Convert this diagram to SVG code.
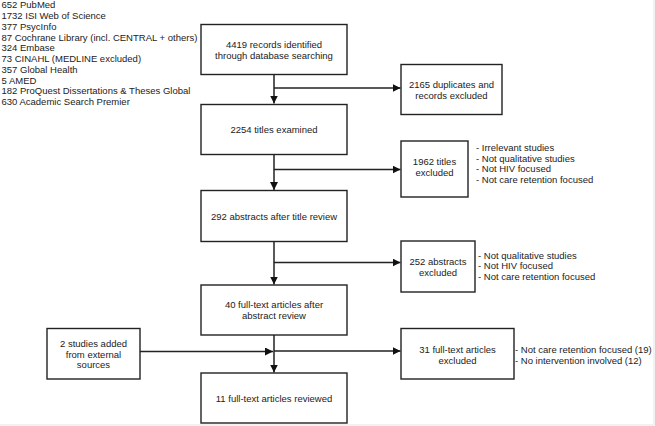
<svg xmlns="http://www.w3.org/2000/svg" width="655" height="426" viewBox="0 0 655 426">
<defs>
<style>
.box{fill:#fff;stroke:#222;stroke-width:1.4}
.t{font-family:"Liberation Sans",Arial,sans-serif;font-size:9.5px;fill:#222}
.c{text-anchor:middle}
.ln{fill:none;stroke:#222;stroke-width:1.5}
</style>
<marker id="ah" markerUnits="userSpaceOnUse" markerWidth="9" markerHeight="9" refX="8" refY="4" orient="auto">
<path d="M0,0 L8,4 L0,8 z" fill="#111"/>
</marker>
</defs>
<rect x="0" y="0" width="655" height="426" fill="#fff"/>
<rect x="653" y="0" width="2" height="426" fill="#f1f1f1"/>
<rect x="0" y="424" width="655" height="2" fill="#f1f1f1"/>

<g id="sources">
<text class="t" x="1.5" y="8.4">652 PubMed</text>
<text class="t" x="1.5" y="19.15">1732 ISI Web of Science</text>
<text class="t" x="1.5" y="29.9">377 PsycInfo</text>
<text class="t" x="1.5" y="40.65">87 Cochrane Library (incl. CENTRAL + others)</text>
<text class="t" x="1.5" y="51.4">324 Embase</text>
<text class="t" x="1.5" y="62.15">73 CINAHL (MEDLINE excluded)</text>
<text class="t" x="1.5" y="72.9">357 Global Health</text>
<text class="t" x="1.5" y="83.65">5 AMED</text>
<text class="t" x="1.5" y="94.4">182 ProQuest Dissertations &amp; Theses Global</text>
<text class="t" x="1.5" y="105.15">630 Academic Search Premier</text>
</g>

<g id="connectors">
<path class="ln" d="M274,74.5 V103.5" marker-end="url(#ah)"/>
<path class="ln" d="M274,88 H400.5" marker-end="url(#ah)"/>
<path class="ln" d="M274,154.5 V190" marker-end="url(#ah)"/>
<path class="ln" d="M274,169.5 H400.5" marker-end="url(#ah)"/>
<path class="ln" d="M274,241.5 V284.5" marker-end="url(#ah)"/>
<path class="ln" d="M274,262.5 H400.5" marker-end="url(#ah)"/>
<path class="ln" d="M274,335 V372.5" marker-end="url(#ah)"/>
<path class="ln" d="M274,351 H400.5" marker-end="url(#ah)"/>
<path class="ln" d="M140,351.5 H273" marker-end="url(#ah)"/>
</g>

<g id="n1">
<rect class="box" x="201" y="24.5" width="146" height="50"/>
<text class="t c" x="274" y="48.4">4419 records identified</text>
<text class="t c" x="274" y="59.1">through database searching</text>
</g>
<g id="n2">
<rect class="box" x="201" y="104.5" width="146" height="50"/>
<text class="t c" x="274" y="133.4">2254 titles examined</text>
</g>
<g id="n3">
<rect class="box" x="201" y="190.5" width="146" height="51"/>
<text class="t c" x="274" y="220">292 abstracts after title review</text>
</g>
<g id="n4">
<rect class="box" x="201" y="285" width="146" height="50"/>
<text class="t c" x="274" y="308.4">40 full-text articles after</text>
<text class="t c" x="274" y="319.2">abstract review</text>
</g>
<g id="n5">
<rect class="box" x="201" y="373" width="146" height="50"/>
<text class="t c" x="274" y="402.4">11 full-text articles reviewed</text>
</g>
<g id="ext">
<rect class="box" x="47" y="328.5" width="93" height="50.5"/>
<text class="t c" x="93.5" y="346.7">2 studies added</text>
<text class="t c" x="93.5" y="357.6">from external</text>
<text class="t c" x="93.5" y="368.4">sources</text>
</g>
<g id="r1">
<rect class="box" x="401" y="64.5" width="101" height="50"/>
<text class="t c" x="451.5" y="88.4">2165 duplicates and</text>
<text class="t c" x="451.5" y="99">records excluded</text>
</g>
<g id="r2">
<rect class="box" x="401" y="141" width="67" height="56"/>
<text class="t c" x="434.5" y="165">1962 titles</text>
<text class="t c" x="434.5" y="175.7">excluded</text>
<text class="t" x="476" y="150.8">- Irrelevant studies</text>
<text class="t" x="476" y="161.5">- Not qualitative studies</text>
<text class="t" x="476" y="172.2">- Not HIV focused</text>
<text class="t" x="476" y="182.9">- Not care retention focused</text>
</g>
<g id="r3">
<rect class="box" x="401" y="241" width="74" height="51"/>
<text class="t c" x="438" y="265.1">252 abstracts</text>
<text class="t c" x="438" y="275.8">excluded</text>
<text class="t" x="478" y="258.5">- Not qualitative studies</text>
<text class="t" x="478" y="269.2">- Not HIV focused</text>
<text class="t" x="478" y="279.9">- Not care retention focused</text>
</g>
<g id="r4">
<rect class="box" x="401" y="328.5" width="113" height="50.5"/>
<text class="t c" x="457.5" y="352.7">31 full-text articles</text>
<text class="t c" x="457.5" y="363.8">excluded</text>
<text class="t" x="515" y="352.5">- Not care retention focused (19)</text>
<text class="t" x="515" y="363.6">- No intervention involved (12)</text>
</g>
</svg>
